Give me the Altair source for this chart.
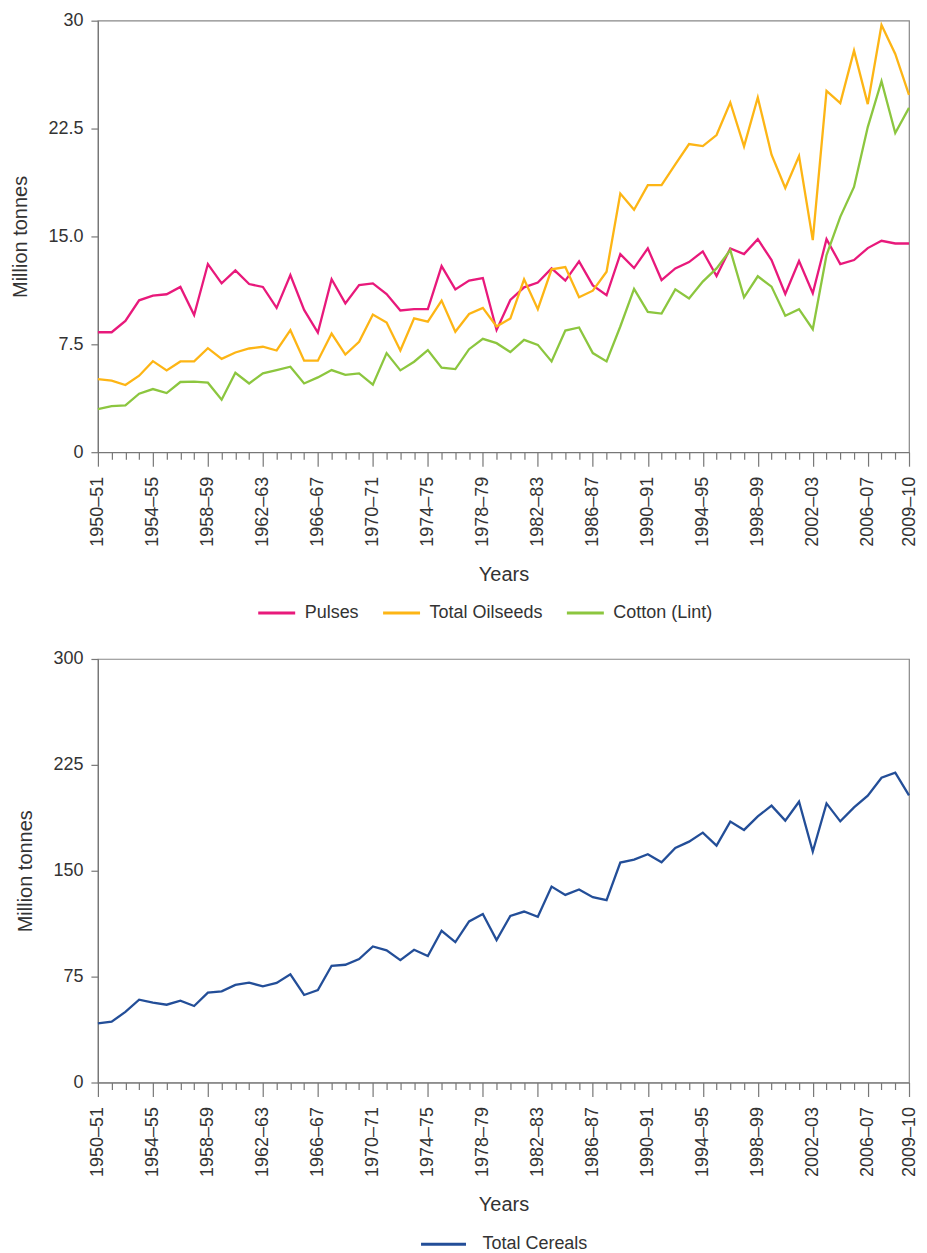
import json
import altair as alt
import pandas as pd

# ---------------- data ----------------
YEARS = [f"{y}–{(y + 1) % 100:02d}" for y in range(1950, 2010)]
LABELED = ["1950–51", "1954–55", "1958–59", "1962–63", "1966–67", "1970–71",
           "1974–75", "1978–79", "1982–83", "1986–87", "1990–91", "1994–95",
           "1998–99", "2002–03", "2006–07", "2009–10"]

PULSES = [8.34, 8.34, 9.13, 10.56, 10.89, 10.98, 11.49, 9.54, 13.08, 11.74,
          12.64, 11.69, 11.49, 10.03, 12.32, 9.89, 8.32, 12.02, 10.35, 11.62,
          11.74, 11.00, 9.85, 9.94, 9.94, 12.94, 11.32, 11.93, 12.11, 8.50,
          10.58, 11.46, 11.79, 12.78, 11.93, 13.27, 11.60, 10.91, 13.77, 12.80,
          14.17, 11.97, 12.78, 13.22, 13.96, 12.25, 14.17, 13.77, 14.81, 13.36,
          11.00, 13.29, 11.05, 14.81, 13.08, 13.36, 14.19, 14.70, 14.51, 14.51]

OILSEEDS = [5.08, 4.97, 4.67, 5.32, 6.33, 5.69, 6.31, 6.31, 7.23, 6.49,
            6.93, 7.21, 7.33, 7.07, 8.48, 6.36, 6.36, 8.25, 6.79, 7.67,
            9.57, 9.01, 7.07, 9.31, 9.08, 10.54, 8.37, 9.61, 10.03, 8.74,
            9.29, 12.02, 9.94, 12.71, 12.87, 10.77, 11.23, 12.55, 17.98, 16.85,
            18.56, 18.56, 20.01, 21.42, 21.28, 22.05, 24.31, 21.26, 24.66, 20.68,
            18.37, 20.59, 14.74, 25.12, 24.27, 27.92, 24.20, 29.70, 27.69, 24.84]

COTTON = [3.00, 3.21, 3.26, 4.07, 4.39, 4.11, 4.88, 4.90, 4.83, 3.65,
          5.52, 4.78, 5.48, 5.71, 5.94, 4.78, 5.20, 5.71, 5.38, 5.48,
          4.69, 6.89, 5.69, 6.29, 7.10, 5.87, 5.78, 7.16, 7.88, 7.58,
          6.96, 7.81, 7.46, 6.31, 8.46, 8.67, 6.89, 6.31, 8.74, 11.35,
          9.75, 9.64, 11.32, 10.68, 11.86, 12.78, 14.05, 10.77, 12.23, 11.51,
          9.48, 9.94, 8.55, 13.70, 16.36, 18.44, 22.60, 25.79, 22.19, 23.94]

CEREALS = [41.95, 43.1, 49.97, 58.7, 56.6, 55.1, 58.0, 54.2, 63.6, 64.6,
           69.1, 70.7, 68.1, 70.5, 76.6, 62.0, 65.5, 82.7, 83.4, 87.4,
           96.4, 93.6, 86.7, 94.0, 89.6, 107.5, 99.5, 114.1, 119.3, 100.9,
           118.0, 121.1, 117.4, 138.8, 132.9, 136.7, 131.3, 129.2, 155.8, 157.9,
           161.7, 156.0, 166.2, 170.6, 177.0, 167.8, 184.8, 178.9, 188.5, 196.1,
           185.5, 198.9, 163.6, 197.7, 185.0, 194.9, 203.2, 215.9, 219.4, 203.4]

TOP_SERIES = ["Pulses", "Total Oilseeds", "Cotton (Lint)"]
TOP_COLORS = ["#E8197B", "#FDB515", "#8CC63F"]
BOTTOM_SERIES = ["Total Cereals"]
BOTTOM_COLORS = ["#234E98"]
TOP_TICKS = [0, 7.5, 15, 22.5, 30]
BOTTOM_TICKS = [0, 75, 150, 225, 300]

top_df = pd.DataFrame({
    "year": YEARS * 3,
    "value": PULSES + OILSEEDS + COTTON,
    "series": [TOP_SERIES[0]] * 60 + [TOP_SERIES[1]] * 60 + [TOP_SERIES[2]] * 60,
})
bottom_df = pd.DataFrame({"year": YEARS, "value": CEREALS,
                          "series": BOTTOM_SERIES * 60})

FONT = "Liberation Sans"
is_lab = f"indexof({json.dumps(LABELED, ensure_ascii=False)}, datum.value) >= 0"


def x_enc():
    return alt.X(
        "year:O", sort=YEARS,
        scale=alt.Scale(type="point", padding=0),
        axis=alt.Axis(
            title="Years", labelAngle=270,
            labelExpr=f"{is_lab} ? datum.value : ''",
            tickSize=14,
            tickDash={"condition": {"test": is_lab, "value": [14, 0]}, "value": [7, 40]},
            labelPadding=10, titlePadding=18,
        ),
    )


def y_enc(ticks, label_expr=None):
    kw = dict(title="Million tonnes", values=ticks, tickSize=7, labelPadding=8,
              titlePadding=17, grid=False)
    if label_expr:
        kw["labelExpr"] = label_expr
    return alt.Y("value:Q", scale=alt.Scale(domain=[ticks[0], ticks[-1]], nice=False),
                 axis=alt.Axis(**kw))


def legend(x, y, sym_len, offset, colpad):
    return alt.Legend(title=None, orient="none", legendX=x, legendY=y,
                      direction="horizontal", padding=0,
                      symbolType="stroke", symbolStrokeWidth=3,
                      symbolSize=sym_len * sym_len,
                      labelFontSize=18, labelOffset=offset, columnPadding=colpad)


top = alt.Chart(top_df).mark_line(strokeWidth=2.3).encode(
    x=x_enc(),
    y=y_enc(TOP_TICKS,
            "datum.value == 0 ? '0' : datum.value == 30 ? '30' : format(datum.value, '.1f')"),
    color=alt.Color("series:N", sort=TOP_SERIES,
                    scale=alt.Scale(domain=TOP_SERIES, range=TOP_COLORS),
                    legend=legend(159, 573, 37, 8, 17)),
).properties(width=812, height=432)

bottom = alt.Chart(bottom_df).mark_line(strokeWidth=2.3).encode(
    x=x_enc(),
    y=y_enc(BOTTOM_TICKS),
    color=alt.Color("series:N",
                    scale=alt.Scale(domain=BOTTOM_SERIES, range=BOTTOM_COLORS),
                    legend=legend(322, 562, 45, 15, 20)),
).properties(width=812, height=424)

chart = alt.vconcat(top, bottom, spacing=26).resolve_scale(
    color="independent"
).properties(
    padding={"left": 2, "top": 2, "right": 0, "bottom": 0}
).configure(
    font=FONT,
).configure_axis(
    labelFont=FONT, titleFont=FONT, labelFontSize=18, titleFontSize=20,
    titleFontWeight="normal", labelColor="#333333", titleColor="#333333",
    domainColor="#777777", tickColor="#777777", domainWidth=1.2, tickWidth=1.2,
).configure_legend(
    labelFont=FONT, labelColor="#333333",
).configure_view(
    stroke="#888888", strokeWidth=1.2,
)

chart.save("out.html", embed_options={"renderer": "svg", "actions": False})
